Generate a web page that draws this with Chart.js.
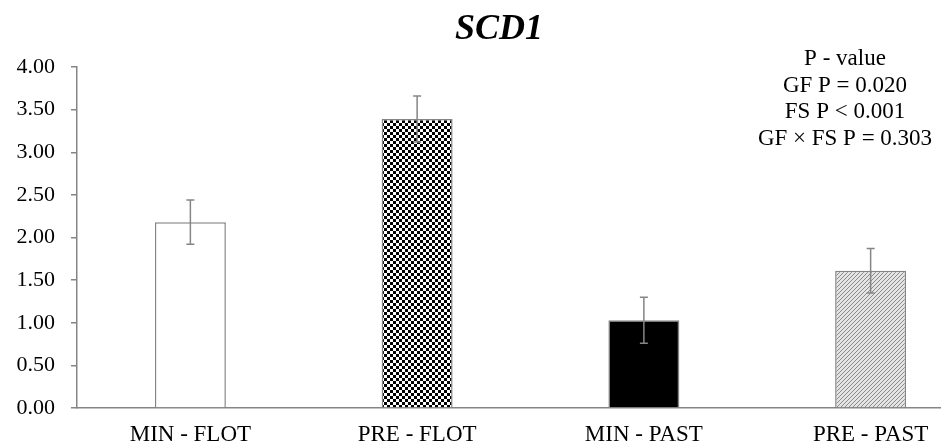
<!DOCTYPE html>
<html>
<head>
<meta charset="utf-8">
<script src="https://cdn.jsdelivr.net/npm/chart.js@4"></script>
<style>
  html, body { margin: 0; padding: 0; background: #fff; overflow: hidden; }
  #wrap { width: 1000px; height: 446px; }
</style>
</head>
<body>
<div id="wrap"><canvas id="chart" width="1000" height="446"></canvas></div>
<script>
const categories = ['MIN - FLOT', 'PRE - FLOT', 'MIN - PAST', 'PRE - PAST'];
const means = [2.18, 3.39, 1.03, 1.61];
const errors = [0.26, 0.27, 0.27, 0.26];
const yTicks = [0, 0.5, 1, 1.5, 2, 2.5, 3, 3.5, 4];
const pValueLines = ['P - value', 'GF P = 0.020', 'FS P < 0.001', 'GF \u00d7 FS P = 0.303'];

const FONT = '"Liberation Serif", "Times New Roman", serif';
const GRAY = '#858585';

function makePattern(draw, size) {
  const c = document.createElement('canvas');
  c.width = size;
  c.height = size;
  const ctx = c.getContext('2d');
  draw(ctx, size);
  return ctx.createPattern(c, 'repeat');
}

const checker = makePattern((ctx) => {
  ctx.fillStyle = '#fff';
  ctx.fillRect(0, 0, 6, 6);
  ctx.fillStyle = '#000';
  ctx.fillRect(0, 0, 3, 3);
  ctx.fillRect(3, 3, 3, 3);
}, 6);

const hatch = makePattern((ctx, s) => {
  ctx.fillStyle = '#e4e4e4';
  ctx.fillRect(0, 0, s, s);
  ctx.strokeStyle = '#8a8a8a';
  ctx.lineWidth = 1;
  ctx.beginPath();
  ctx.moveTo(-1, s + 1);
  ctx.lineTo(s + 1, -1);
  ctx.moveTo(-1, 1);
  ctx.lineTo(1, -1);
  ctx.moveTo(s - 1, s + 1);
  ctx.lineTo(s + 1, s - 1);
  ctx.stroke();
}, 4);

const fills = ['#ffffff', checker, '#000000', hatch];

// error bars drawn from the library's scales
const errorBars = {
  id: 'errorBars',
  afterDatasetsDraw(chart) {
    const ctx = chart.ctx;
    const meta = chart.getDatasetMeta(0);
    const y = chart.scales.y;
    ctx.save();
    ctx.strokeStyle = GRAY;
    ctx.lineWidth = 1.5;
    meta.data.forEach((bar, i) => {
      const top = y.getPixelForValue(means[i] + errors[i]);
      const bottom = y.getPixelForValue(means[i] - errors[i]);
      ctx.beginPath();
      ctx.moveTo(bar.x, top);
      ctx.lineTo(bar.x, bottom);
      ctx.moveTo(bar.x - 4, top);
      ctx.lineTo(bar.x + 4, top);
      ctx.moveTo(bar.x - 4, bottom);
      ctx.lineTo(bar.x + 4, bottom);
      ctx.stroke();
    });
    ctx.restore();
  }
};

const pValueText = {
  id: 'pValueText',
  afterDraw(chart) {
    const ctx = chart.ctx;
    ctx.save();
    ctx.fillStyle = '#000';
    ctx.font = '23px ' + FONT;
    ctx.textAlign = 'center';
    ctx.textBaseline = 'alphabetic';
    pValueLines.forEach((line, i) => {
      ctx.fillText(line, 845, 65 + i * 26.7);
    });
    ctx.restore();
  }
};

new Chart(document.getElementById('chart'), {
  type: 'bar',
  data: {
    labels: categories,
    datasets: [{
      data: means,
      backgroundColor: fills,
      borderColor: GRAY,
      borderWidth: 1.5,
      categoryPercentage: 1,
      barPercentage: 0.313
    }]
  },
  options: {
    responsive: false,
    animation: false,
    layout: { padding: { left: 14, right: 16, top: 0, bottom: 0 } },
    plugins: {
      legend: { display: false },
      tooltip: { enabled: false },
      title: {
        display: true,
        text: 'SCD1',
        color: '#000',
        font: { family: FONT, size: 36, style: 'italic', weight: 'bold', lineHeight: 1.2 },
        padding: { top: 8, bottom: 15.8 }
      }
    },
    scales: {
      x: {
        grid: { display: false, drawTicks: false },
        border: { color: GRAY, width: 1.5 },
        ticks: { color: '#000', font: { family: FONT, size: 23 }, padding: 13.5 },
        afterFit(scale) { scale.height = 38; }
      },
      y: {
        min: 0,
        max: 4,
        afterBuildTicks(scale) { scale.ticks = yTicks.map(v => ({ value: v })); },
        grid: { drawOnChartArea: false, drawTicks: true, tickLength: 6, color: GRAY, lineWidth: 1.5 },
        border: { color: GRAY, width: 1.5 },
        ticks: {
          color: '#000',
          font: { family: FONT, size: 22 },
          padding: 16,
          callback: (v) => Number(v).toFixed(2)
        },
        afterFit(scale) { scale.width = 63; }
      }
    }
  },
  plugins: [errorBars, pValueText]
});
</script>
</body>
</html>
